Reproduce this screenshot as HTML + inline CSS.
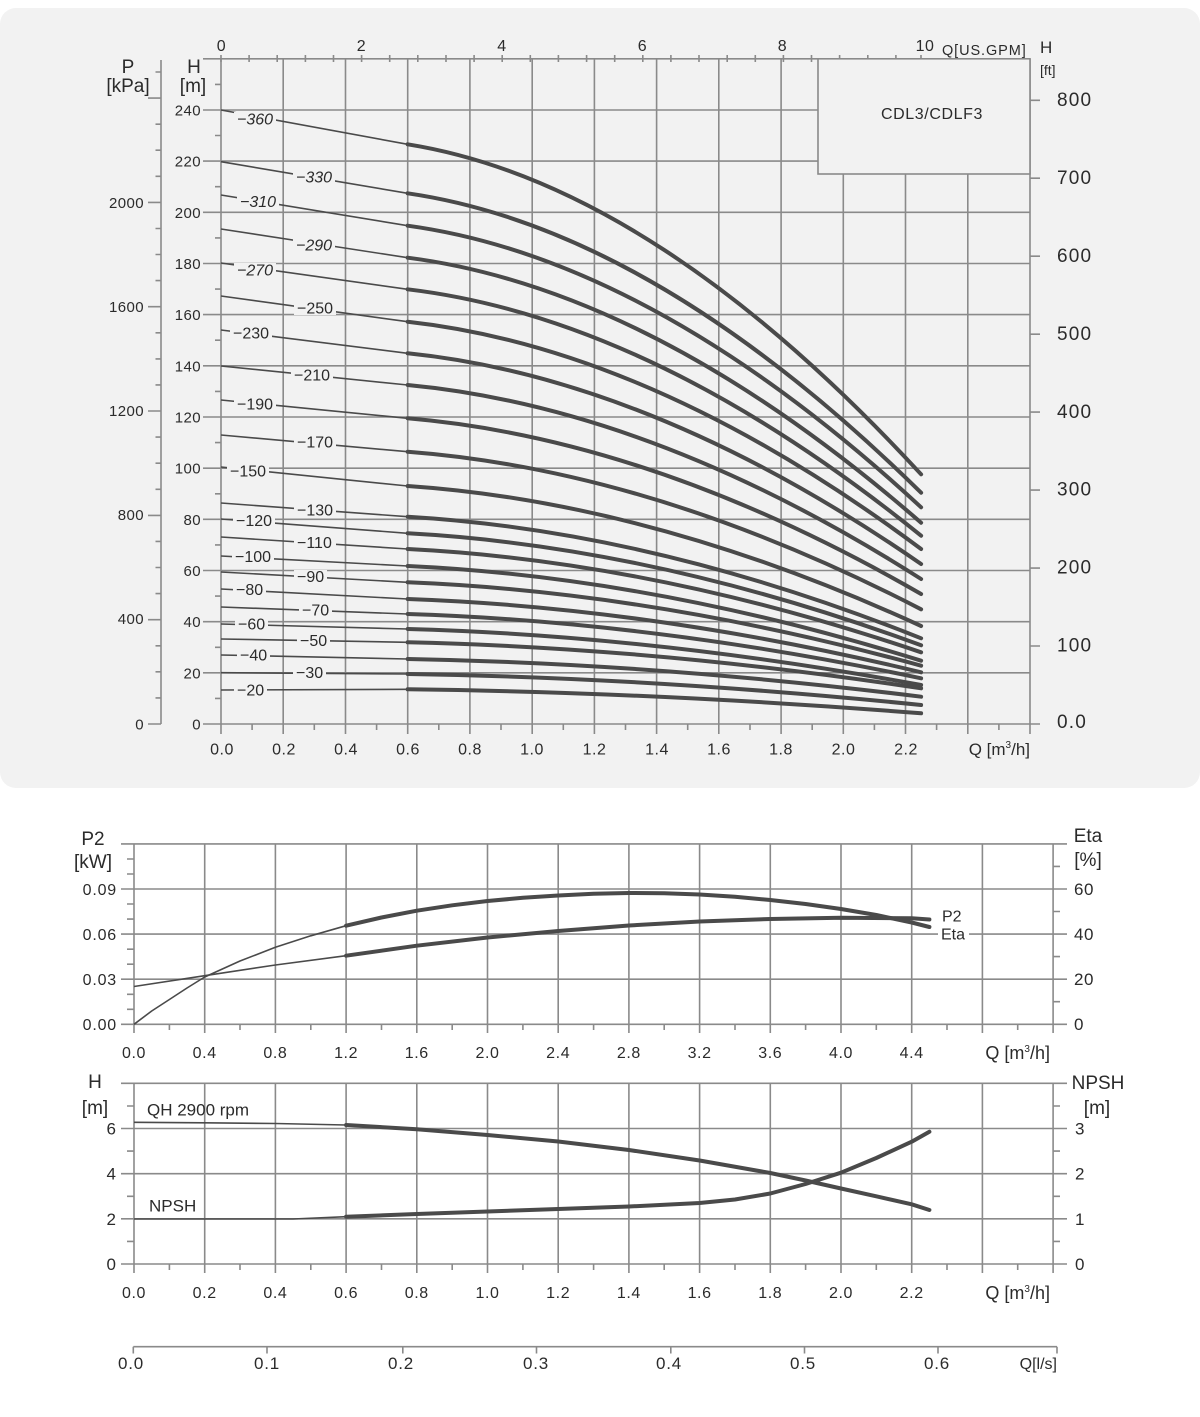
<!DOCTYPE html>
<html><head><meta charset="utf-8">
<style>
html,body{margin:0;padding:0;background:#fff;}
svg{display:block;font-family:"Liberation Sans",sans-serif;}
.t{fill:#2b2b2b;}
.g{stroke:#8a8a8a;stroke-width:1.6;fill:none;}
.thin{stroke:#4a4a4a;stroke-width:1.6;fill:none;stroke-linejoin:round;}
.thick{stroke:#4a4a4a;stroke-width:4;fill:none;stroke-linecap:round;stroke-linejoin:round;}
</style></head>
<body>
<svg width="1200" height="1417" viewBox="0 0 1200 1417" xmlns="http://www.w3.org/2000/svg">
<rect x="0" y="0" width="1200" height="1417" fill="#fff"/>
<rect x="0" y="8" width="1200" height="780" rx="16" fill="#f2f2f2"/>

<!-- ===== TOP CHART GRID ===== -->
<g class="g">
<path d="M203,724H1030 M203,672.8H1030 M203,621.7H1030 M203,570.5H1030 M203,519.3H1030 M203,468.2H1030 M203,417H1030 M203,365.8H1030 M203,314.6H1030 M203,263.5H1030 M203,212.3H1030 M203,161.1H1030 M203,110H1030 M203,58.8H1030"/>
<path d="M221,58.8V734 M283.2,58.8V734 M345.5,58.8V734 M407.7,58.8V734 M469.9,58.8V734 M532.2,58.8V734 M594.4,58.8V734 M656.6,58.8V734 M718.8,58.8V734 M781.1,58.8V734 M843.3,58.8V734 M905.5,58.8V734 M967.8,58.8V734 M1030,58.8V734"/>
<!-- H minor ticks -->
<path d="M215,698.4H221 M215,647.3H221 M215,596.1H221 M215,544.9H221 M215,493.8H221 M215,442.6H221 M215,391.4H221 M215,340.2H221 M215,289.1H221 M215,237.9H221 M215,186.7H221 M215,135.5H221 M215,84.4H221"/>
<!-- Q minor ticks -->
<path d="M252.1,724V730 M314.3,724V730 M376.6,724V730 M438.8,724V730 M501,724V730 M563.3,724V730 M625.5,724V730 M687.7,724V730 M750,724V730 M812.2,724V730 M874.4,724V730 M936.6,724V730 M998.9,724V730"/>
<!-- P axis -->
<path d="M161,60V724"/>
<path d="M148,724H161 M155.5,697.9H161 M155.5,671.8H161 M155.5,645.8H161 M148,619.7H161 M155.5,593.6H161 M155.5,567.5H161 M155.5,541.4H161 M148,515.4H161 M155.5,489.3H161 M155.5,463.2H161 M155.5,437.1H161 M148,411H161 M155.5,384.9H161 M155.5,358.9H161 M155.5,332.8H161 M148,306.7H161 M155.5,280.6H161 M155.5,254.5H161 M155.5,228.5H161 M148,202.4H161 M155.5,176.3H161 M155.5,150.2H161 M155.5,124.2H161 M148,98.1H161 M155.5,72H161"/>
<!-- ft ticks -->
<path d="M1030,724H1040 M1030,646H1040 M1030,568.1H1040 M1030,490.1H1040 M1030,412.1H1040 M1030,334.2H1040 M1030,256.2H1040 M1030,178.2H1040 M1030,100.3H1040"/>
<!-- GPM ticks -->
<path d="M221,55V62 M249.1,55V62 M277.2,55V62 M305.4,55V62 M333.5,55V62 M361.6,55V62 M389.7,55V62 M417.8,55V62 M446,55V62 M474.1,55V62 M502.2,55V62 M530.3,55V62 M558.4,55V62 M586.6,55V62 M614.7,55V62 M642.8,55V62 M670.9,55V62 M699,55V62 M727.2,55V62 M755.3,55V62 M783.4,55V62 M811.5,55V62 M839.6,55V62 M867.8,55V62 M895.9,55V62 M921,55V62"/>
</g>

<!-- legend box -->
<rect x="818" y="58.8" width="212" height="115.2" fill="#f2f2f2" stroke="#8a8a8a" stroke-width="1.6"/>
<text x="932" y="119" class="t" font-size="16" text-anchor="middle" letter-spacing="0.6">CDL3/CDLF3</text>

<!-- axis labels top chart -->
<g class="t" font-size="15" text-anchor="end" letter-spacing="0.4">
<text x="201" y="729.5">0</text>
<text x="201" y="678.3">20</text>
<text x="201" y="627.2">40</text>
<text x="201" y="576">60</text>
<text x="201" y="524.8">80</text>
<text x="201" y="473.7">100</text>
<text x="201" y="422.5">120</text>
<text x="201" y="371.3">140</text>
<text x="201" y="320.1">160</text>
<text x="201" y="269">180</text>
<text x="201" y="217.8">200</text>
<text x="201" y="166.6">220</text>
<text x="201" y="115.5">240</text>
<text x="144" y="729.5">0</text>
<text x="144" y="624">400</text>
<text x="144" y="520">800</text>
<text x="144" y="416">1200</text>
<text x="144" y="312">1600</text>
<text x="144" y="208">2000</text>
</g>
<g class="t" font-size="19" text-anchor="middle">
<text x="128" y="73">P</text>
<text x="128" y="92">[kPa]</text>
<text x="194" y="73">H</text>
<text x="193" y="92">[m]</text>
</g>
<g class="t" font-size="16" text-anchor="middle" letter-spacing="0.5">
<text x="222" y="754.5">0.0</text>
<text x="284" y="754.5">0.2</text>
<text x="346" y="754.5">0.4</text>
<text x="408" y="754.5">0.6</text>
<text x="470" y="754.5">0.8</text>
<text x="532" y="754.5">1.0</text>
<text x="594.5" y="754.5">1.2</text>
<text x="657" y="754.5">1.4</text>
<text x="719" y="754.5">1.6</text>
<text x="781" y="754.5">1.8</text>
<text x="843.5" y="754.5">2.0</text>
<text x="906" y="754.5">2.2</text>
<text x="221.5" y="51">0</text>
<text x="361.5" y="51">2</text>
<text x="502" y="51">4</text>
<text x="642.5" y="51">6</text>
<text x="782.5" y="51">8</text>
<text x="925" y="51">10</text>
</g>
<text x="1030" y="755" class="t" font-size="17" text-anchor="end">Q [m<tspan font-size="10" dy="-7">3</tspan><tspan dy="7">/h]</tspan></text>
<text x="942" y="55" class="t" font-size="14.5" letter-spacing="0.9">Q[US.GPM]</text>
<text x="1040" y="53" class="t" font-size="17">H</text>
<text x="1040" y="75" class="t" font-size="14">[ft]</text>
<g class="t" font-size="19" letter-spacing="1.2">
<text x="1057" y="106">800</text>
<text x="1057" y="184">700</text>
<text x="1057" y="262">600</text>
<text x="1057" y="340">500</text>
<text x="1057" y="418">400</text>
<text x="1057" y="495.5">300</text>
<text x="1057" y="573.5">200</text>
<text x="1057" y="651.5">100</text>
<text x="1057" y="728">0.0</text>
</g>

<!-- thin curve segments -->
<g class="thin">
<path d="M221,110L407.7,144.3"/>
<path d="M221,161.7L407.7,193.3"/>
<path d="M221,195L407.7,225.7"/>
<path d="M221,229L407.7,257.7"/>
<path d="M221,263L407.7,289.3"/>
<path d="M221,296L407.7,321.7"/>
<path d="M221,330L407.7,353.3"/>
<path d="M221,366L407.7,385"/>
<path d="M221,400L407.7,418.3"/>
<path d="M221,435L407.7,451.7"/>
<path d="M221,467L407.7,486"/>
<path d="M221,503L407.7,516.7"/>
<path d="M221,519L407.7,533.3"/>
<path d="M221,537L407.7,549"/>
<path d="M221,556L407.7,566"/>
<path d="M221,572L407.7,582.3"/>
<path d="M221,589L407.7,599"/>
<path d="M221,607L407.7,614"/>
<path d="M221,624L407.7,629"/>
<path d="M221,639L407.7,642.3"/>
<path d="M221,655L407.7,659"/>
<path d="M221,672.7L407.7,674"/>
<path d="M221,690L407.7,689.3"/>
</g>

<!-- curve labels -->
<g fill="#f2f2f2">
<rect x="234" y="112" width="42" height="14"/>
<rect x="293" y="170" width="42" height="14"/>
<rect x="237" y="194.5" width="42" height="14"/>
<rect x="293" y="238" width="42" height="14"/>
<rect x="234" y="263" width="42" height="14"/>
<rect x="294" y="301" width="42" height="14"/>
<rect x="230" y="326" width="42" height="14"/>
<rect x="291" y="368" width="42" height="14"/>
<rect x="234" y="397" width="42" height="14"/>
<rect x="294" y="435" width="42" height="14"/>
<rect x="227" y="464" width="42" height="14"/>
<rect x="294" y="503" width="42" height="14"/>
<rect x="233" y="514" width="42" height="13.5"/>
<rect x="294" y="536" width="42" height="13.5"/>
<rect x="232" y="550" width="42" height="13.5"/>
<rect x="294" y="570" width="33" height="13.5"/>
<rect x="233" y="583" width="33" height="13"/>
<rect x="299" y="603.5" width="33" height="13"/>
<rect x="235" y="617.5" width="33" height="13"/>
<rect x="297" y="634.5" width="33" height="13"/>
<rect x="237" y="648.5" width="33" height="13"/>
<rect x="293" y="666" width="33" height="13.5"/>
<rect x="234" y="683.5" width="33" height="13"/>
</g>
<g class="t" font-size="16">
<text x="237" y="124.5" font-style="italic">−360</text>
<text x="296" y="182.5" font-style="italic">−330</text>
<text x="240" y="207" font-style="italic">−310</text>
<text x="296" y="250.5" font-style="italic">−290</text>
<text x="237" y="275.5" font-style="italic">−270</text>
<text x="297" y="313.5">−250</text>
<text x="233" y="338.5">−230</text>
<text x="294" y="380.5">−210</text>
<text x="237" y="409.5">−190</text>
<text x="297" y="447.5">−170</text>
<text x="230" y="476.5">−150</text>
<text x="297" y="515.5">−130</text>
<text x="236" y="526.2">−120</text>
<text x="297" y="548.2">−110</text>
<text x="235" y="562.2">−100</text>
<text x="297" y="582.2">−90</text>
<text x="236" y="594.8">−80</text>
<text x="302" y="615.5">−70</text>
<text x="238" y="629.5">−60</text>
<text x="300" y="646.2">−50</text>
<text x="240" y="660.5">−40</text>
<text x="296" y="678.2">−30</text>
<text x="237" y="695.5">−20</text>
</g>

<!-- thick curve segments -->
<g class="thick">
<path d="M407.7,144.3C578.8,171.8 749.9,288.8 921.1,474.3"/>
<path d="M407.7,193.3C578.8,218.2 749.9,324.4 921.1,492.7"/>
<path d="M407.7,225.7C578.8,249.2 749.9,349 921.1,507.3"/>
<path d="M407.7,257.7C578.8,279.8 749.9,373.8 921.1,522.7"/>
<path d="M407.7,289.3C578.8,309.8 749.9,397.2 921.1,535.7"/>
<path d="M407.7,321.7C578.8,340.6 749.9,421.3 921.1,549"/>
<path d="M407.7,353.3C578.8,370.9 749.9,445.6 921.1,564"/>
<path d="M407.7,385C578.8,401.2 749.9,470 921.1,579"/>
<path d="M407.7,418.3C578.8,432.9 749.9,495.3 921.1,594"/>
<path d="M407.7,451.7C578.8,464.8 749.9,520.7 921.1,609.3"/>
<path d="M407.7,486C578.8,497.7 749.9,547.3 921.1,626"/>
<path d="M407.7,516.7C578.8,526.8 749.9,569.9 921.1,638.3"/>
<path d="M407.7,533.3C578.8,542.6 749.9,582.4 921.1,645.3"/>
<path d="M407.7,549C578.8,557.6 749.9,594.2 921.1,652.3"/>
<path d="M407.7,566C578.8,573.9 749.9,607.5 921.1,660.7"/>
<path d="M407.7,582.3C578.8,589.2 749.9,618.8 921.1,665.7"/>
<path d="M407.7,599C578.8,605.1 749.9,631.1 921.1,672.3"/>
<path d="M407.7,614C578.8,619.4 749.9,642.2 921.1,678.3"/>
<path d="M407.7,629C578.8,633.7 749.9,653.5 921.1,685"/>
<path d="M407.7,642.3C578.8,646.1 749.9,662.4 921.1,688.3"/>
<path d="M407.7,659C578.8,662.1 749.9,675.5 921.1,696.7"/>
<path d="M407.7,674C578.8,676.6 749.9,687.6 921.1,705"/>
<path d="M407.7,689.3C578.8,691.3 749.9,699.8 921.1,713.3"/>
</g>

<!-- ===== CHART 2 : P2 / Eta ===== -->
<g class="g">
<path d="M121,1024.3H1067 M121,979.2H1067 M121,934.1H938 M969,934.1H1067 M121,889H1067 M121,843.9H1067"/>
<path d="M134,843.9V1033 M204.7,843.9V1033 M275.4,843.9V1033 M346.1,843.9V1033 M416.8,843.9V1033 M487.5,843.9V1033 M558.2,843.9V1033 M628.9,843.9V1033 M699.6,843.9V1033 M770.3,843.9V1033 M841,843.9V1033 M911.7,843.9V1033 M982.4,843.9V1033 M1053.1,843.9V1033"/>
<path d="M127,1009.3H134 M127,994.3H134 M127,964.2H134 M127,949.2H134 M127,919.1H134 M127,904H134 M127,874H134 M127,859H134"/>
<path d="M1053,1001.7H1060 M1053,956.6H1060 M1053,911.5H1060 M1053,866.4H1060"/>
<path d="M169.4,1024V1030 M240,1024V1030 M310.8,1024V1030 M381.5,1024V1030 M452.2,1024V1030 M522.9,1024V1030 M593.6,1024V1030 M664.2,1024V1030 M735,1024V1030 M805.6,1024V1030 M876.3,1024V1030 M947,1024V1030 M1017.7,1024V1030"/>
</g>
<g class="t" font-size="16" text-anchor="end" letter-spacing="0.8">
<text x="117" y="895">0.09</text>
<text x="117" y="940">0.06</text>
<text x="117" y="985">0.03</text>
<text x="117" y="1030">0.00</text>
</g>
<g class="t" font-size="17" letter-spacing="0.5">
<text x="1074" y="895">60</text>
<text x="1074" y="940">40</text>
<text x="1074" y="985">20</text>
<text x="1074" y="1030">0</text>
</g>
<g class="t" font-size="16" text-anchor="middle" letter-spacing="0.6">
<text x="134" y="1058">0.0</text>
<text x="204.7" y="1058">0.4</text>
<text x="275.4" y="1058">0.8</text>
<text x="346.1" y="1058">1.2</text>
<text x="416.8" y="1058">1.6</text>
<text x="487.5" y="1058">2.0</text>
<text x="558.2" y="1058">2.4</text>
<text x="628.9" y="1058">2.8</text>
<text x="699.6" y="1058">3.2</text>
<text x="770.3" y="1058">3.6</text>
<text x="841" y="1058">4.0</text>
<text x="911.7" y="1058">4.4</text>
</g>
<text x="1050" y="1059" class="t" font-size="18" text-anchor="end">Q [m<tspan font-size="10" dy="-7">3</tspan><tspan dy="7">/h]</tspan></text>
<g class="t" font-size="19" text-anchor="middle">
<text x="93" y="845">P2</text>
<text x="93" y="868">[kW]</text>
<text x="1088" y="842">Eta</text>
<text x="1088" y="866">[%]</text>
</g>
<text x="942" y="921.5" class="t" font-size="16">P2</text>
<text x="941" y="939.5" class="t" font-size="16">Eta</text>
<!-- P2 (B) and Eta (A) -->
<polyline class="thin" points="134,986.5 204.7,975.7 275.4,965 346.1,955.7"/>
<polyline class="thick" points="346.1,955.7 416.8,945.7 487.5,937.5 558.2,931 628.9,925.5 699.6,921.5 770.3,919 841,917.8 911.7,918.3 929.4,919.5"/>
<polyline class="thin" points="134,1024.3 151.7,1011 169.4,999.5 187,988 204.7,977 240,961 275.4,947.3 310.8,935.8 346.1,925.7"/>
<polyline class="thick" points="346.1,925.7 381.5,917.5 416.8,910.7 452.2,905.3 487.5,901 522.9,897.8 558.2,895.5 593.6,893.8 628.9,893 664.2,893.3 699.6,894.5 735,896.8 770.3,900 805.6,904 841,909 876.3,915 911.7,922.5 929.4,927"/>

<!-- ===== CHART 3 : QH / NPSH ===== -->
<g class="g">
<path d="M121,1264H1067 M121,1218.8H1067 M121,1173.7H1067 M121,1128.5H1067 M121,1083.3H1067"/>
<path d="M134,1083.3V1273 M204.7,1083.3V1273 M275.4,1083.3V1273 M346.1,1083.3V1273 M416.8,1083.3V1273 M487.5,1083.3V1273 M558.2,1083.3V1273 M628.9,1083.3V1273 M699.6,1083.3V1273 M770.3,1083.3V1273 M841,1083.3V1273 M911.7,1083.3V1273 M982.4,1083.3V1273 M1053.1,1083.3V1273"/>
<path d="M127,1241.4H134 M127,1196.3H134 M127,1151.1H134 M127,1106H134"/>
<path d="M1053,1241.4H1060 M1053,1196.3H1060 M1053,1151.1H1060 M1053,1106H1060"/>
<path d="M169.4,1264V1270 M240,1264V1270 M310.8,1264V1270 M381.5,1264V1270 M452.2,1264V1270 M522.9,1264V1270 M593.6,1264V1270 M664.2,1264V1270 M735,1264V1270 M805.6,1264V1270 M876.3,1264V1270 M947,1264V1270 M1017.7,1264V1270"/>
</g>
<g class="t" font-size="17" text-anchor="end">
<text x="116" y="1134.5">6</text>
<text x="116" y="1179.7">4</text>
<text x="116" y="1224.8">2</text>
<text x="116" y="1270">0</text>
</g>
<g class="t" font-size="17">
<text x="1075" y="1134.5">3</text>
<text x="1075" y="1179.7">2</text>
<text x="1075" y="1224.8">1</text>
<text x="1075" y="1270">0</text>
</g>
<g class="t" font-size="16" text-anchor="middle" letter-spacing="0.6">
<text x="134" y="1298">0.0</text>
<text x="204.7" y="1298">0.2</text>
<text x="275.4" y="1298">0.4</text>
<text x="346.1" y="1298">0.6</text>
<text x="416.8" y="1298">0.8</text>
<text x="487.5" y="1298">1.0</text>
<text x="558.2" y="1298">1.2</text>
<text x="628.9" y="1298">1.4</text>
<text x="699.6" y="1298">1.6</text>
<text x="770.3" y="1298">1.8</text>
<text x="841" y="1298">2.0</text>
<text x="911.7" y="1298">2.2</text>
</g>
<text x="1050" y="1299" class="t" font-size="18" text-anchor="end">Q [m<tspan font-size="10" dy="-7">3</tspan><tspan dy="7">/h]</tspan></text>
<g class="t" font-size="19" text-anchor="middle">
<text x="95" y="1088">H</text>
<text x="95" y="1114">[m]</text>
<text x="1098" y="1089">NPSH</text>
<text x="1097" y="1114">[m]</text>
</g>
<text x="147" y="1115.5" class="t" font-size="17">QH 2900 rpm</text>
<text x="149" y="1211.5" class="t" font-size="17">NPSH</text>
<polyline class="thin" points="134,1122.3 204.7,1122.8 275.4,1123.5 346.1,1125"/>
<polyline class="thick" points="346.1,1125 416.8,1129.3 487.5,1135 558.2,1141.5 628.9,1150 699.6,1160.5 770.3,1173 805.6,1180.5 841,1188.5 876.3,1196.3 911.7,1204.3 929.4,1210"/>
<polyline class="thin" points="134,1219 293,1219 346.1,1216.7"/>
<polyline class="thick" points="346.1,1216.7 416.8,1214 487.5,1211.5 558.2,1209 628.9,1206.5 699.6,1203 735,1199.5 770.3,1193.5 805.6,1184 841,1172.7 876.3,1158 911.7,1141.7 929.4,1131.7"/>

<!-- ===== CHART 4 : l/s axis ===== -->
<g class="g">
<path d="M133.3,1346.7H1057"/>
<path d="M133.3,1346.7V1353.5 M267,1346.7V1353.5 M402.8,1346.7V1353.5 M536.5,1346.7V1353.5 M670.8,1346.7V1353.5 M804.5,1346.7V1353.5 M938,1346.7V1353.5 M1057,1346.7V1353.5"/>
</g>
<g class="t" font-size="17" text-anchor="middle" letter-spacing="0.8">
<text x="131" y="1369">0.0</text>
<text x="267" y="1369">0.1</text>
<text x="401" y="1369">0.2</text>
<text x="536" y="1369">0.3</text>
<text x="669" y="1369">0.4</text>
<text x="803" y="1369">0.5</text>
<text x="937" y="1369">0.6</text>
</g>
<text x="1057" y="1369" class="t" font-size="16" text-anchor="end">Q[l/s]</text>
</svg>
</body></html>
